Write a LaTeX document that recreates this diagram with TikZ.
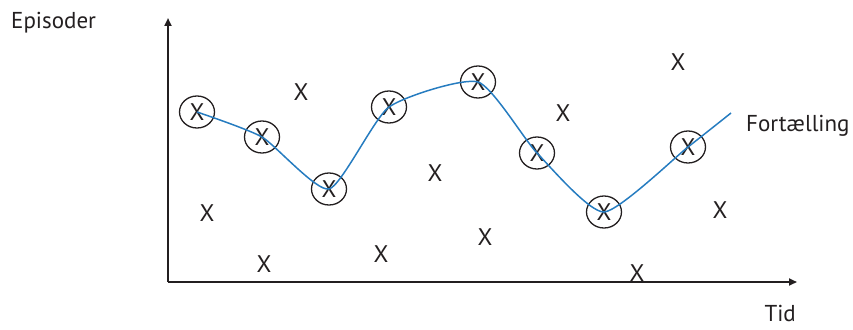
\documentclass[tikz,border=0pt]{standalone}
\usepackage{fontspec}
\setmainfont{PT Sans}
\usepackage{tikz}
\usetikzlibrary{arrows.meta,shapes.geometric,positioning}
\definecolor{axisgray}{RGB}{35,31,32}
\definecolor{storyblue}{RGB}{38,124,192}
\tikzset{
    % Axes and labels
    axis/.style={line width=2.4pt, axisgray, -{Triangle[length=8pt,width=7pt]}},
    axislabel/.style={font=\fontsize{23}{26}\selectfont, text=axisgray, inner sep=0pt},
    % Episodes: plain and chosen for the story
    episode/.style={font=\fontsize{24}{26}\selectfont, text=axisgray, inner sep=0pt},
    storyepisode/.style={episode, ellipse, draw=axisgray, line width=1.3pt,
        minimum width=35pt, minimum height=32pt},
    % The story line
    storyline/.style={line width=1.5pt, storyblue},
}
\begin{document}
\begin{tikzpicture}[x=1pt,y=-1pt]
    \useasboundingbox (0,0) rectangle (853,329);
    \coordinate (origin) at (168,282);
    \coordinate (ytop) at (168,18);
    \coordinate (xend) at (797,282);
    \draw[axis] (origin) -- (ytop);
    \draw[axis] (origin) -- (xend);
    \node[axislabel, anchor=west] (ylab) at (11,23) {Episoder};
    \node[axislabel, anchor=base east] (xlab) at (796,321) {Tid};
    % chosen episodes
    \foreach \n/\x/\y in {1/197/112, 2/262/137, 3/329/189, 4/389/107,
                          5/478/82, 6/537/153, 7/604/212, 8/688/147}{
        \node[storyepisode] (s\n) at (\x,\y) {X};}
    % other episodes
    \foreach \n/\x/\y in {1/301/92, 2/207/213, 3/264/264, 4/435/173, 5/381/254,
                          6/485/237, 7/563/113, 8/678/62, 9/720/210, 10/637/273}{
        \node[episode] (e\n) at (\x,\y) {X};}
    \coordinate (send) at (731,113);
    \draw[storyline] plot[smooth, tension=0.35] coordinates
        {(s1) (s2) (s3) (s4) (s5) (s6) (s7) (s8) (send)};
    \node[axislabel, anchor=west] (story) at (746,126) {Fortælling};
\end{tikzpicture}
\end{document}
